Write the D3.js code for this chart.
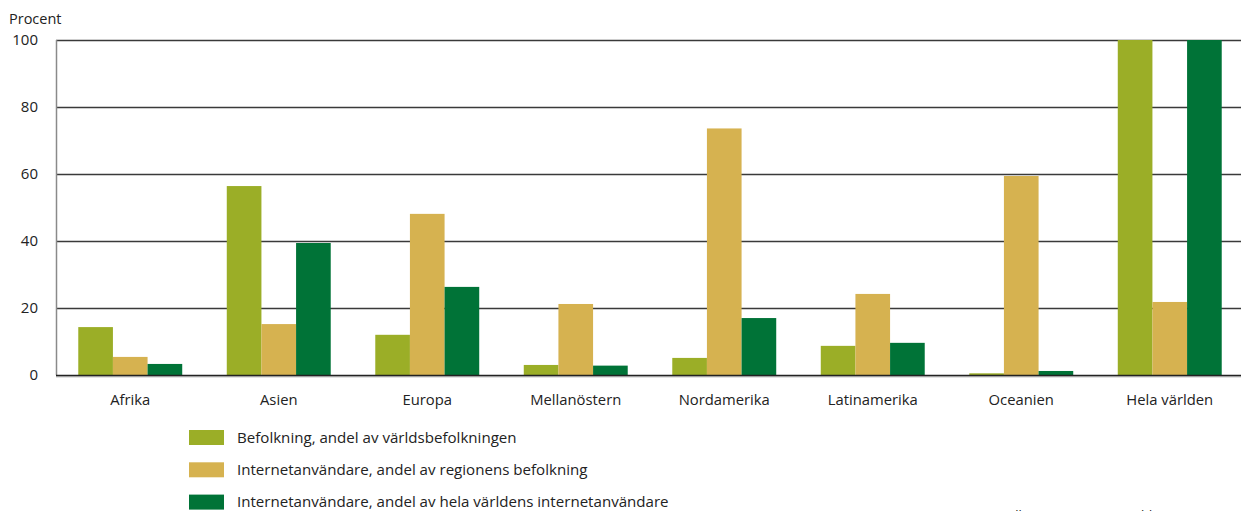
<!DOCTYPE html>
<html><head><meta charset="utf-8">
<script src="https://cdn.jsdelivr.net/npm/d3@7"></script>
<style>body{margin:0;background:#fff;} svg{display:block;} text{font-family:"Open Sans","Noto Sans",sans-serif;fill:#222;}</style>
</head><body>
<svg id="c" width="1241" height="511"></svg>
<script>
const categories = ["Afrika","Asien","Europa","Mellanöstern","Nordamerika","Latinamerika","Oceanien","Hela världen"];
const seriesNames = ["Befolkning, andel av världsbefolkningen","Internetanvändare, andel av regionens befolkning","Internetanvändare, andel av hela världens internetanvändare"];
const befolkning = [14.3, 56.4, 12.0, 3.0, 5.1, 8.7, 0.5, 100];
const andelRegion = [5.4, 15.2, 48.1, 21.2, 73.6, 24.2, 59.4, 21.8];
const andelVarld = [3.3, 39.4, 26.3, 2.8, 17.0, 9.6, 1.2, 100];
const yTicks = [0, 20, 40, 60, 80, 100];
const colors = ["#9bae27", "#d6b250", "#007337"];
const sourceText = "Källa: www.internetworldstats.com";

const series = [befolkning, andelRegion, andelVarld];
const svg = d3.select("#c");
const x = d3.scaleBand().domain(categories).range([56, 1244]).paddingInner(0.3).paddingOuter(0.15);
const x1 = d3.scaleBand().domain(d3.range(series.length)).range([0, x.bandwidth()]);
const y = d3.scaleLinear().domain([0, 100]).range([375, 40]);

// gridlines
svg.append("g").selectAll("line").data(yTicks.filter(d => d > 0)).join("line")
  .attr("x1", 56).attr("x2", 1241).attr("y1", d => y(d) + 0.5).attr("y2", d => y(d) + 0.5)
  .attr("stroke", "#3a3a3a").attr("stroke-width", 1.3);

// bars
const groups = svg.append("g").selectAll("g").data(categories).join("g")
  .attr("transform", d => `translate(${x(d)},0)`);
groups.selectAll("rect").data((c, i) => series.map((s, k) => ({k, v: s[i]}))).join("rect")
  .attr("x", d => x1(d.k)).attr("width", x1.bandwidth())
  .attr("y", d => y(d.v)).attr("height", d => y(0) - y(d.v))
  .attr("fill", d => colors[d.k]);

// y axis line
svg.append("line").attr("x1", 56.5).attr("x2", 56.5).attr("y1", 40).attr("y2", 375)
  .attr("stroke", "#8a8a8a").attr("stroke-width", 1.5);
// baseline
svg.append("line").attr("x1", 56).attr("x2", 1241).attr("y1", 376.5).attr("y2", 376.5)
  .attr("stroke", "#c8c8c8").attr("stroke-width", 2);
svg.append("line").attr("x1", 56).attr("x2", 1241).attr("y1", y(0) + 0.5).attr("y2", y(0) + 0.5)
  .attr("stroke", "#222").attr("stroke-width", 1.5);

// y tick labels
svg.append("g").selectAll("text").data(yTicks).join("text")
  .attr("x", 38).attr("y", d => y(d)).attr("dy", "0.35em")
  .attr("text-anchor", "end").attr("font-size", 15).text(d => d);
svg.append("text").attr("x", 9).attr("y", 24).attr("font-size", 14.5).text("Procent");

// category labels
svg.append("g").selectAll("text").data(categories).join("text")
  .attr("x", d => x(d) + x.bandwidth() / 2).attr("y", 405)
  .attr("text-anchor", "middle").attr("font-size", 14.8).text(d => d);

// legend
const leg = svg.append("g").selectAll("g").data(seriesNames).join("g")
  .attr("transform", (d, i) => `translate(189,${430 + i * 32.3})`);
leg.append("rect").attr("width", 35).attr("height", 15).attr("fill", (d, i) => colors[i]);
leg.append("text").attr("x", 48).attr("y", 7.5).attr("dy", "0.35em").attr("font-size", 15.1).text(d => d);

// source (cut off at bottom, as in the reference)
svg.append("text").attr("x", 1000).attr("y", 520).attr("font-size", 13).attr("fill", "#555").text(sourceText);
</script>
</body></html>
